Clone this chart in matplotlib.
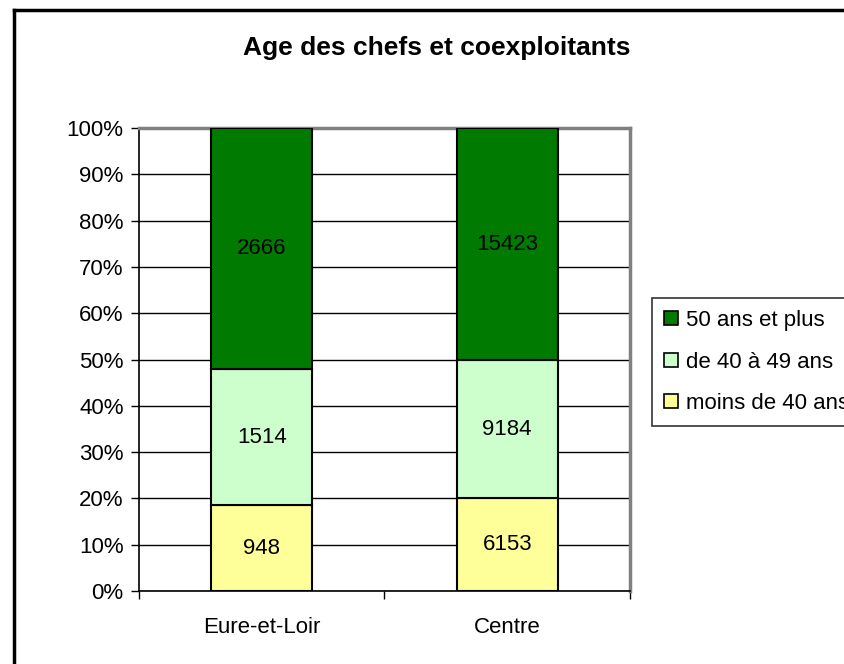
import numpy as np
import matplotlib.pyplot as plt
from matplotlib.lines import Line2D
from matplotlib.patches import Patch

plt.rcParams['font.family'] = ['Liberation Sans', 'DejaVu Sans']

# ============================================================
# DATA
# ============================================================

categories = ["Eure-et-Loir", "Centre"]
series_names = ["moins de 40 ans", "de 40 à 49 ans", "50 ans et plus"]
moins_40 = [948, 6153]
de_40_49 = [1514, 9184]
plus_50 = [2666, 15423]
colors = ["#FFFF99", "#CCFFCC", "#007A00"]

values = np.array([moins_40, de_40_49, plus_50], dtype=float)
totals = values.sum(axis=0)
shares = values / totals * 100

# ============================================================
# PLOT
# ============================================================

fig = plt.figure(figsize=(8.45, 6.64), dpi=100)
ax = fig.add_axes([139/845, 1 - 591/664, 491/845, 463/664])

x = np.arange(len(categories))
bottom = np.zeros(len(categories))
for i in range(len(series_names)):
    bars = ax.bar(x, shares[i], bottom=bottom, width=0.41,
                  color=colors[i], edgecolor="black", linewidth=1.5, zorder=3)
    for j, b in enumerate(bars):
        ax.text(b.get_x() + b.get_width() / 2, bottom[j] + shares[i][j] / 2,
                f"{int(values[i][j])}", ha="center", va="center",
                fontsize=16, zorder=4)
    bottom += shares[i]

ax.set_xlim(-0.5, 1.5)
ax.set_ylim(0, 100)
ax.set_yticks(np.arange(0, 101, 10))
ax.set_yticklabels([f"{v}%" for v in range(0, 101, 10)], fontsize=16)
ax.yaxis.grid(True, color="black", linewidth=1, zorder=0)
ax.tick_params(axis="y", direction="out", length=6, width=1, pad=5)

ax.set_xticks(x)
ax.set_xticklabels(categories, fontsize=16)
ax.tick_params(axis="x", length=0, pad=19)
ax.set_xticks([-0.5, 0.5, 1.5], minor=True)
ax.tick_params(axis="x", which="minor", direction="out", length=6, width=1)

for side in ["left", "bottom"]:
    ax.spines[side].set_color("black")
    ax.spines[side].set_linewidth(1.2)
for side in ["top", "right"]:
    ax.spines[side].set_color("#808080")
    ax.spines[side].set_linewidth(2.5)

fig.text(437/845, 1 - 48/664, "Age des chefs et coexploitants",
         ha="center", va="center", fontsize=19, fontweight="bold")

# legend (top series first)
handles = [Patch(facecolor=colors[i], edgecolor="black", linewidth=1.2)
           for i in reversed(range(3))]
labels = list(reversed(series_names))
leg = fig.legend(handles, labels, loc="upper left",
                 bbox_to_anchor=(652/845, 1 - 298/664),
                 fontsize=16, frameon=True, fancybox=False,
                 handlelength=0.6, handleheight=0.6, handletextpad=0.36,
                 labelspacing=0.92, borderpad=0.55, borderaxespad=0)
leg.get_frame().set_edgecolor("black")
leg.get_frame().set_linewidth(1.2)

# outer chart frame
fig.add_artist(Line2D([14/845, 14/845], [0, 1 - 10/664], color="black",
                      linewidth=2.5, transform=fig.transFigure))
fig.add_artist(Line2D([14/845, 1], [1 - 10/664, 1 - 10/664], color="black",
                      linewidth=2.5, transform=fig.transFigure))

fig.savefig("out.png", dpi=100)
